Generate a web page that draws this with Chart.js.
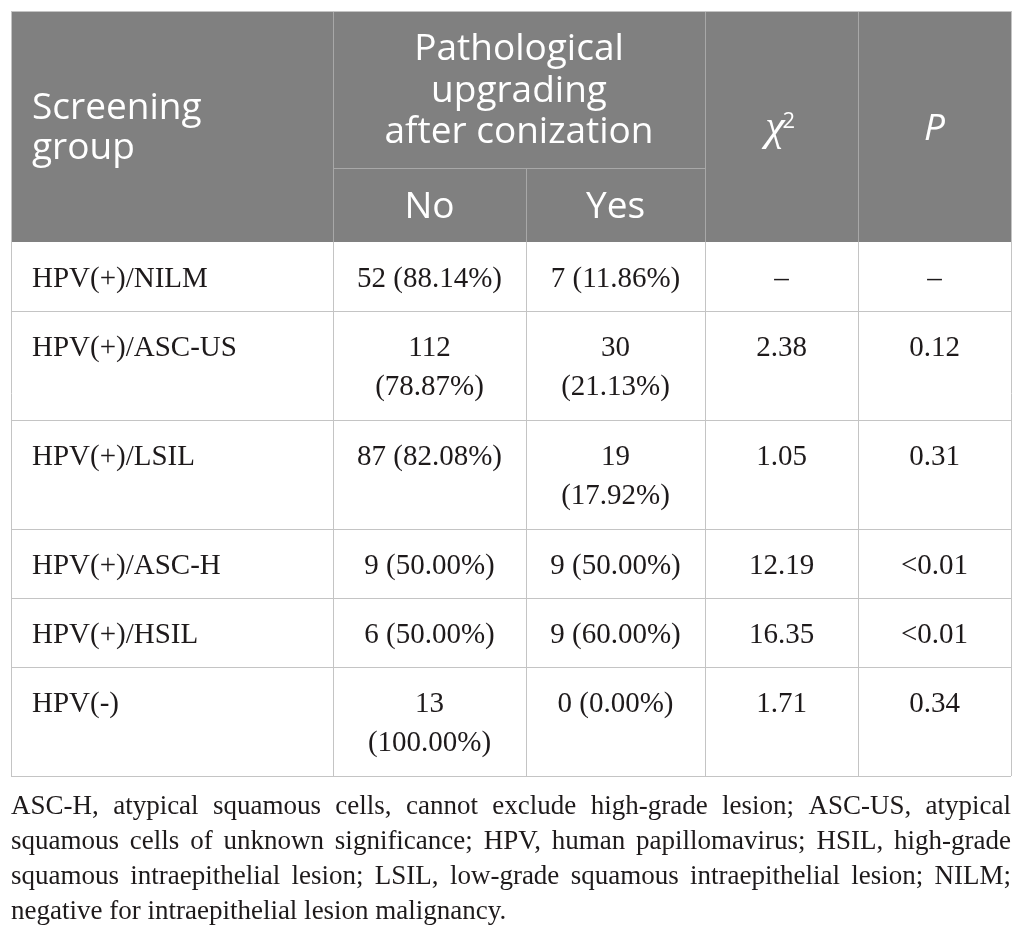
<!DOCTYPE html>
<html>
<head>
<meta charset="utf-8">
<script src="https://cdn.jsdelivr.net/npm/chart.js@4.4.0/dist/chart.umd.min.js"></script>
<style>
  html, body { margin: 0; padding: 0; background: #fff; }
  #wrap { width: 1026px; height: 935px; }
</style>
</head>
<body>
<div id="wrap"><canvas id="tableChart" width="1026" height="935"></canvas></div>
<script>
// table content
const groups = ['HPV(+)/NILM', 'HPV(+)/ASC-US', 'HPV(+)/LSIL', 'HPV(+)/ASC-H', 'HPV(+)/HSIL', 'HPV(-)'];
const noCounts = [52, 112, 87, 9, 6, 13];
const noPercents = [88.14, 78.87, 82.08, 50.00, 50.00, 100.00];
const yesCounts = [7, 30, 19, 9, 9, 0];
const yesPercents = [11.86, 21.13, 17.92, 50.00, 60.00, 0.00];
const chiSquares = ['–', '2.38', '1.05', '12.19', '16.35', '1.71'];
const pValues = ['–', '0.12', '0.31', '<0.01', '<0.01', '0.34'];

const groupHeader = ['Screening', 'group'];
const upgradeHeader = ['Pathological', 'upgrading', 'after conization'];
const subHeaders = ['No', 'Yes'];
const footnoteLines = [
    'ASC-H, atypical squamous cells, cannot exclude high-grade lesion; ASC-US, atypical',
    'squamous cells of unknown significance; HPV, human papillomavirus; HSIL, high-grade',
    'squamous intraepithelial lesion; LSIL, low-grade squamous intraepithelial lesion; NILM;',
    'negative for intraepithelial lesion malignancy.'
];

// layout (in scale units, which run 0..1026 across and 0..935 down)
const colEdges = [11, 333, 526, 705, 858, 1011];
const headTop = 11, headSplit = 168, headBottom = 242;
const cellPad = 22, firstBase = 45, lineGap = 39, singleRow = 69, rowExtra = 40;
const noteOffset = 38, noteGap = 35;

const SERIF = '"Liberation Serif", "Times New Roman", serif';
const SANS = '"Open Sans", "Noto Sans", sans-serif';
const bodyFont = '29px ' + SERIF;
const headFont = '37px ' + SANS;
const noteFont = '27px ' + SERIF;

function fmtCell(count, pct) {
    return count + ' (' + pct.toFixed(2) + '%)';
}

function wrapText(ctx, text, maxW) {
    if (ctx.measureText(text).width <= maxW) return [text];
    const words = text.split(' ');
    const lines = [];
    let cur = '';
    words.forEach((w) => {
        const test = cur ? cur + ' ' + w : w;
        if (cur && ctx.measureText(test).width > maxW) {
            lines.push(cur);
            cur = w;
        } else {
            cur = test;
        }
    });
    if (cur) lines.push(cur);
    return lines;
}

const tablePlugin = {
    id: 'tableDraw',
    afterDraw(chart) {
        const ctx = chart.ctx;
        const xs = chart.scales.x, ys = chart.scales.y;
        const px = (v) => xs.getPixelForValue(v);
        const py = (v) => ys.getPixelForValue(v);
        const crisp = (p) => Math.round(p) + 0.5;

        const line = (x0, y0, x1, y1, color) => {
            ctx.strokeStyle = color;
            ctx.lineWidth = 1;
            ctx.beginPath();
            if (x0 === x1) {
                ctx.moveTo(crisp(px(x0)), py(y0));
                ctx.lineTo(crisp(px(x1)), py(y1));
            } else {
                ctx.moveTo(px(x0), crisp(py(y0)));
                ctx.lineTo(px(x1), crisp(py(y1)));
            }
            ctx.stroke();
        };

        ctx.save();

        // header block
        ctx.fillStyle = '#808080';
        ctx.fillRect(px(colEdges[0]), py(headTop), px(colEdges[5]) - px(colEdges[0]), py(headBottom) - py(headTop));

        ctx.fillStyle = '#ffffff';
        ctx.textBaseline = 'alphabetic';
        ctx.font = headFont;
        ctx.textAlign = 'left';
        groupHeader.forEach((t, i) => ctx.fillText(t, px(colEdges[0] + 21), py(119 + i * 40)));

        ctx.textAlign = 'center';
        const upCenter = (colEdges[1] + colEdges[3]) / 2;
        upgradeHeader.forEach((t, i) => ctx.fillText(t, px(upCenter), py(60 + i * 41.5)));
        subHeaders.forEach((t, i) => {
            ctx.fillText(t, px((colEdges[1 + i] + colEdges[2 + i]) / 2), py(218));
        });

        // chi-square symbol
        const chiC = (colEdges[3] + colEdges[4]) / 2;
        ctx.font = 'italic 44px ' + SERIF;
        ctx.textAlign = 'right';
        ctx.fillText('χ', px(chiC + 3), py(140));
        ctx.font = '22px ' + SANS;
        ctx.textAlign = 'left';
        ctx.fillText('2', px(chiC + 1), py(128));

        ctx.font = 'italic 37px ' + SANS;
        ctx.textAlign = 'center';
        ctx.fillText('P', px((colEdges[4] + colEdges[5]) / 2), py(140));

        // header inner lines
        const headLine = '#a8a8a8';
        line(colEdges[1], headTop, colEdges[1], headBottom, headLine);
        line(colEdges[3], headTop, colEdges[3], headBottom, headLine);
        line(colEdges[4], headTop, colEdges[4], headBottom, headLine);
        line(colEdges[2], headSplit, colEdges[2], headBottom, headLine);
        line(colEdges[1], headSplit, colEdges[3], headSplit, headLine);

        // body rows
        ctx.font = bodyFont;
        ctx.fillStyle = '#1e1a1b';
        let top = headBottom;
        const rowTops = [];
        groups.forEach((g, r) => {
            const cells = [
                [g],
                wrapText(ctx, fmtCell(noCounts[r], noPercents[r]), colEdges[2] - colEdges[1] - 2 * cellPad),
                wrapText(ctx, fmtCell(yesCounts[r], yesPercents[r]), colEdges[3] - colEdges[2] - 2 * cellPad),
                [chiSquares[r]],
                [pValues[r]]
            ];
            const nLines = Math.max(...cells.map((c) => c.length));
            cells.forEach((c, ci) => {
                c.forEach((t, li) => {
                    const y = py(top + firstBase + li * lineGap);
                    if (ci === 0) {
                        ctx.textAlign = 'left';
                        ctx.fillText(t, px(colEdges[0] + 21), y);
                    } else {
                        ctx.textAlign = 'center';
                        ctx.fillText(t, px((colEdges[ci] + colEdges[ci + 1]) / 2), y);
                    }
                });
            });
            rowTops.push(top);
            top += singleRow + (nLines - 1) * rowExtra;
        });
        const tableBottom = top;

        const gridColor = '#c4c4c4';
        rowTops.slice(1).forEach((t) => line(colEdges[0], t, colEdges[5], t, gridColor));
        line(colEdges[0], tableBottom, colEdges[5], tableBottom, gridColor);
        colEdges.slice(1, 5).forEach((c) => line(c, headBottom, c, tableBottom, gridColor));
        // outer frame
        line(colEdges[0], headTop, colEdges[5], headTop, gridColor);
        line(colEdges[0], headTop, colEdges[0], tableBottom, gridColor);
        line(colEdges[5], headTop, colEdges[5], tableBottom, gridColor);

        // footnote, justified except last line
        ctx.font = noteFont;
        ctx.textAlign = 'left';
        const left = colEdges[0], right = colEdges[5];
        footnoteLines.forEach((t, i) => {
            const y = py(tableBottom + noteOffset + i * noteGap);
            if (i === footnoteLines.length - 1) {
                ctx.fillText(t, px(left), y);
                return;
            }
            const words = t.split(' ');
            const widths = words.map((w) => ctx.measureText(w).width);
            const total = widths.reduce((a, b) => a + b, 0);
            const gap = (px(right) - px(left) - total) / (words.length - 1);
            let x = px(left);
            words.forEach((w, wi) => {
                ctx.fillText(w, x, y);
                x += widths[wi] + gap;
            });
        });

        ctx.restore();
    }
};

new Chart(document.getElementById('tableChart'), {
    type: 'scatter',
    data: {datasets: [{data: []}]},
    options: {
        responsive: false,
        animation: false,
        layout: {padding: 0},
        plugins: {legend: {display: false}, tooltip: {enabled: false}},
        scales: {
            x: {type: 'linear', min: 0, max: 1026, display: false},
            y: {type: 'linear', min: 0, max: 935, reverse: true, display: false}
        }
    },
    plugins: [tablePlugin]
});
</script>
</body>
</html>
